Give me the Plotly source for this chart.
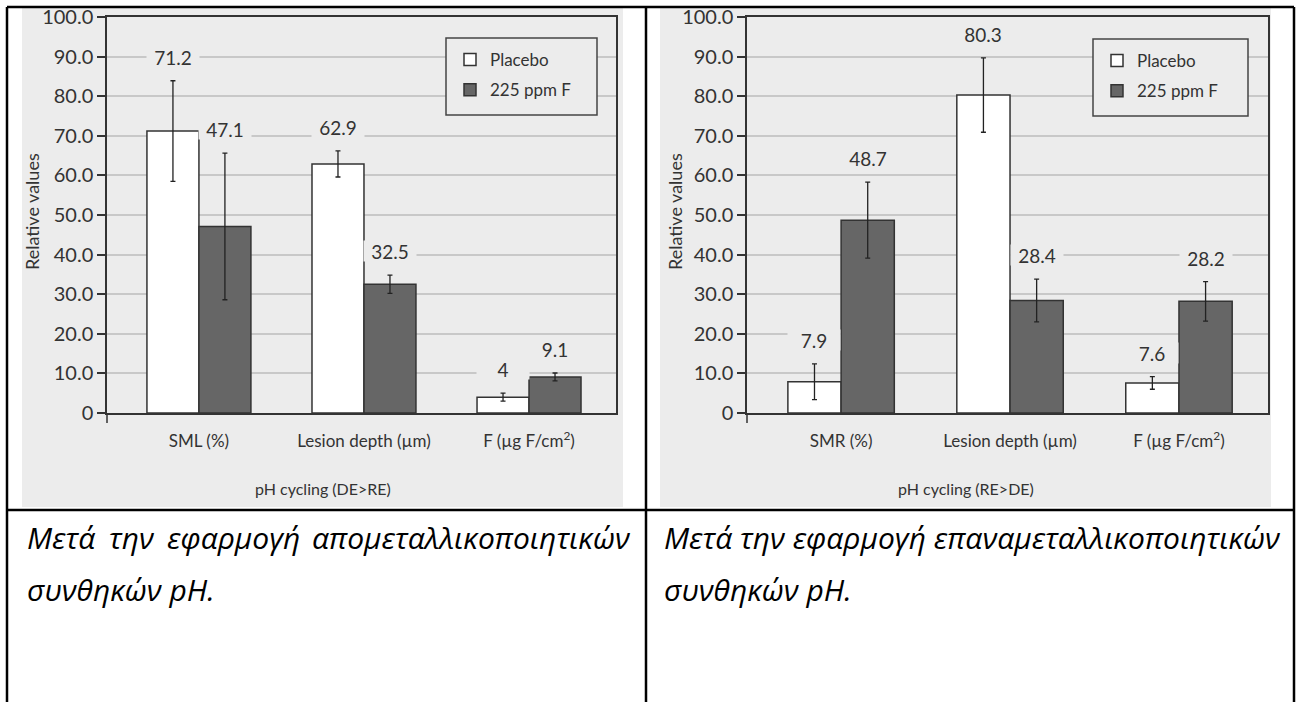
import plotly.graph_objects as go

# ---------------- data ----------------
series_names = ["Placebo", "225 ppm F"]

categories_left = ["SML (%)", "Lesion depth (µm)", "F (µg F/cm<sup>2</sup>)"]
placebo_left = [71.2, 62.9, 4]
placebo_left_err = [12.7, 3.3, 1.0]
fluoride_left = [47.1, 32.5, 9.1]
fluoride_left_err = [18.5, 2.3, 1.0]

categories_right = ["SMR (%)", "Lesion depth (µm)", "F (µg F/cm<sup>2</sup>)"]
placebo_right = [7.9, 80.3, 7.6]
placebo_right_err = [4.5, 9.4, 1.6]
fluoride_right = [48.7, 28.4, 28.2]
fluoride_right_err = [9.6, 5.4, 5.0]

y_tickvals = [0, 10, 20, 30, 40, 50, 60, 70, 80, 90, 100]
y_ticktext = ["0", "10.0", "20.0", "30.0", "40.0", "50.0", "60.0", "70.0", "80.0", "90.0", "100.0"]

group_titles = ["pH cycling (DE>RE)", "pH cycling (RE>DE)"]
y_title = "Relative values"
caption_left_words = ["Μετά", "την", "εφαρμογή", "απομεταλλικοποιητικών"]
caption_left_line2 = "συνθηκών pH."
caption_right_line1 = "Μετά την εφαρμογή επαναμεταλλικοποιητικών"
caption_right_line2 = "συνθηκών pH."

# ---------------- layout helpers ----------------
W, H = 1301, 702
def px(x):
    return x / W
def py(y):
    return 1 - y / H

CHART_FONT = "Lato"
TXT = "#333333"
GRAY_BG = "#ececec"
PLACEBO_FILL = "#ffffff"
FLUOR_FILL = "#666666"
EDGE = "#333333"
BARGAP = 0.37
X_RANGE = [-0.557, 2.527]

fig = go.Figure()

panels = [
    dict(cats=categories_left, p=placebo_left, pe=placebo_left_err,
         f=fluoride_left, fe=fluoride_left_err, xa="x", ya="y", lg="legend"),
    dict(cats=categories_right, p=placebo_right, pe=placebo_right_err,
         f=fluoride_right, fe=fluoride_right_err, xa="x2", ya="y2", lg="legend2"),
]

annotations = []
half = (1 - BARGAP) / 4.0  # center offset of each bar within the group
for k, pnl in enumerate(panels):
    xs = list(range(len(pnl["cats"])))
    for s, (vals, errs, fill) in enumerate([(pnl["p"], pnl["pe"], PLACEBO_FILL),
                                           (pnl["f"], pnl["fe"], FLUOR_FILL)]):
        fig.add_trace(go.Bar(
            x=xs, y=vals, name=series_names[s],
            xaxis=pnl["xa"], yaxis=pnl["ya"], legend=pnl["lg"],
            legendgroup=f"{k}-{s}", offsetgroup=str(s),
            marker=dict(color=fill, line=dict(color=EDGE, width=1.5)),
            error_y=dict(type="data", array=errs, color="#222222", thickness=1.3, width=2.5),
            hoverinfo="skip",
        ))
        off = -half if s == 0 else half
        for i, (v, e) in enumerate(zip(vals, errs)):
            annotations.append(dict(
                x=i + off, y=v + e, xref=pnl["xa"], yref=pnl["ya"],
                text=f"{v:g}", showarrow=False, yshift=24,
                font=dict(family=CHART_FONT, size=19, color=TXT),
                bgcolor=GRAY_BG, width=50, height=18,
            ))

def xaxis_def(dom, anchor, cats):
    return dict(domain=dom, anchor=anchor, range=X_RANGE, automargin=False,
                tickvals=[0, 1, 2], ticktext=cats, showgrid=False,
                zeroline=False, ticks="", ticklabelstandoff=12,
                tickfont=dict(family=CHART_FONT, size=17, color=TXT),
                showline=True, linecolor="#333333", linewidth=1.5, mirror=True)

def yaxis_def(anchor):
    return dict(domain=[py(413), py(17)], anchor=anchor, range=[0, 100], automargin=False,
                tickvals=y_tickvals, ticktext=y_ticktext, ticks="outside", ticklen=8,
                tickcolor="#333333", tickwidth=1.5,
                showgrid=True, gridcolor="#c8c8c8", gridwidth=1.6, zeroline=False,
                tickfont=dict(family=CHART_FONT, size=20, color=TXT),
                showline=True, linecolor="#333333", linewidth=1.5, mirror=True)

legend_common = dict(xanchor="left", yanchor="top", bgcolor="rgba(0,0,0,0)",
                     borderwidth=0,
                     font=dict(family=CHART_FONT, size=17, color=TXT),
                     traceorder="grouped", tracegroupgap=5)

fig.update_layout(
    xaxis=xaxis_def([px(107), px(616)], "y", categories_left),
    yaxis=yaxis_def("x"),
    xaxis2=xaxis_def([px(747), px(1268)], "y2", categories_right),
    yaxis2=yaxis_def("x2"),
    barmode="group", bargap=BARGAP, bargroupgap=0,
    legend=dict(x=px(450), y=py(42), **legend_common),
    legend2=dict(x=px(1097), y=py(43), **legend_common),
    width=W, height=H, autosize=False,
    margin=dict(l=0, r=0, t=0, b=0, autoexpand=False),
    paper_bgcolor="white", plot_bgcolor=GRAY_BG,
    showlegend=True,
)

# gray panels (chart images) and table borders
shapes = [
    dict(type="rect", xref="paper", yref="paper", x0=px(22), x1=px(623), y0=py(507), y1=py(8),
         fillcolor=GRAY_BG, line=dict(width=0), layer="below"),
    dict(type="rect", xref="paper", yref="paper", x0=px(660), x1=px(1271), y0=py(507), y1=py(8),
         fillcolor=GRAY_BG, line=dict(width=0), layer="below"),
]
# legend frames
for (x0, y0, x1, y1) in [(446, 38, 597, 115), (1093, 39, 1248, 116)]:
    shapes.append(dict(type="rect", xref="paper", yref="paper", x0=px(x0), x1=px(x1),
                       y0=py(y1), y1=py(y0), fillcolor=GRAY_BG,
                       line=dict(color="#444444", width=1.5), layer="above"))
# y-axis line extends slightly below the category axis
for xd, yd in [("x domain", "y domain"), ("x2 domain", "y2 domain")]:
    shapes.append(dict(type="line", xref=xd, yref=yd, x0=0, x1=0, y0=0, y1=-0.025,
                       line=dict(color="#333333", width=1.5)))
for (x0, y0, x1, y1) in [(7, 7, 1294, 7), (7, 510, 1294, 510), (7, 7, 7, 702),
                         (646, 7, 646, 702), (1294, 7, 1294, 702)]:
    shapes.append(dict(type="line", xref="paper", yref="paper", x0=px(x0), x1=px(x1),
                       y0=py(y0), y1=py(y1), line=dict(color="black", width=2.5)))
fig.update_layout(shapes=shapes)

# axis titles, group titles
for xc in [32, 675]:
    annotations.append(dict(x=px(xc), y=py(212), xref="paper", yref="paper", text=y_title,
                            textangle=-90, showarrow=False, xanchor="center", yanchor="middle",
                            font=dict(family=CHART_FONT, size=18, color=TXT)))
for xc, t in zip([322.5, 965.5], group_titles):
    annotations.append(dict(x=px(xc), y=py(488), xref="paper", yref="paper", text=t,
                            showarrow=False, xanchor="center", yanchor="middle",
                            font=dict(family=CHART_FONT, size=16, color=TXT)))

# captions
CAP_FONT = dict(family="Open Sans", size=30, color="black")
LINE1_Y, LINE2_Y = 537, 589
left_word_x = [25, 107, 165]
for wx, w in zip(left_word_x, caption_left_words[:-1]):
    annotations.append(dict(x=px(wx), y=py(LINE1_Y), xref="paper", yref="paper", xanchor="left",
                            yanchor="middle", text="<i>" + w + "</i>", showarrow=False, font=CAP_FONT))
annotations.append(dict(x=px(633), y=py(LINE1_Y), xref="paper", yref="paper", xanchor="right",
                        yanchor="middle", text="<i>" + caption_left_words[-1] + "</i>",
                        showarrow=False, font=CAP_FONT))
annotations.append(dict(x=px(25), y=py(LINE2_Y), xref="paper", yref="paper", xanchor="left",
                        yanchor="middle", text="<i>" + caption_left_line2 + "</i>",
                        showarrow=False, font=CAP_FONT))
annotations.append(dict(x=px(662), y=py(LINE1_Y), xref="paper", yref="paper", xanchor="left",
                        yanchor="middle", text="<i>" + caption_right_line1 + "</i>",
                        showarrow=False, font=CAP_FONT))
annotations.append(dict(x=px(662), y=py(LINE2_Y), xref="paper", yref="paper", xanchor="left",
                        yanchor="middle", text="<i>" + caption_right_line2 + "</i>",
                        showarrow=False, font=CAP_FONT))

fig.update_layout(annotations=annotations)

fig.write_html("out.html", config={"displayModeBar": False},
               post_script="document.body.style.margin='0';document.body.style.overflow='hidden';")
